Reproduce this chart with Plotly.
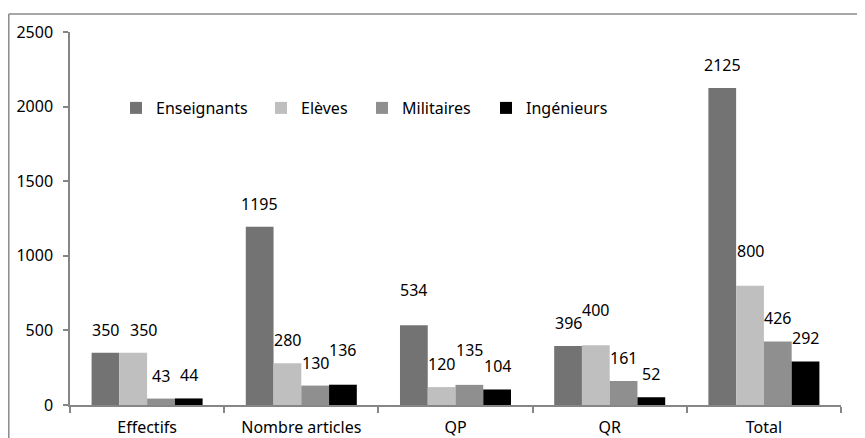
import plotly.graph_objects as go

# ---- data ----
categories = ["Effectifs", "Nombre articles", "QP", "QR", "Total"]
series_names = ["Enseignants", "Elèves", "Militaires", "Ingénieurs"]
enseignants = [350, 1195, 534, 396, 2125]
eleves = [350, 280, 120, 400, 800]
militaires = [43, 130, 135, 161, 426]
ingenieurs = [44, 136, 104, 52, 292]
y_ticks = [0, 500, 1000, 1500, 2000, 2500]

# ---- style ----
colors = ["#737373", "#bfbfbf", "#8f8f8f", "#000000"]
FONT = "Noto Sans"
OFF = 8                      # page body margin
WIN_W, WIN_H = 865, 438
W, H = WIN_W - OFF, WIN_H - OFF
PLOT_X0, PLOT_X1 = 70, 841   # window pixels
PLOT_Y0, PLOT_Y1 = 32, 405
L, R = PLOT_X0 - OFF, WIN_W - PLOT_X1
T, B = PLOT_Y0 - OFF, WIN_H - PLOT_Y1
BARGAP = 0.28
# labels that were nudged up in the original to avoid overlap: (series, category)
raised_labels = {(3, 1), (0, 2), (2, 2), (1, 3), (1, 4)}
label_dx = {(1, 0): 10}
legend_left = [116, 261, 362, 486]   # window px
LEGEND_Y = 108

values = [enseignants, eleves, militaires, ingenieurs]

plot_w = PLOT_X1 - PLOT_X0
plot_h = PLOT_Y1 - PLOT_Y0
def px(x):
    return (x - PLOT_X0) / plot_w
def py(y):
    return (PLOT_Y1 - y) / plot_h

legend_keys = ["legend", "legend2", "legend3", "legend4"]

fig = go.Figure()
for name, vals, col, lk in zip(series_names, values, colors, legend_keys):
    fig.add_trace(go.Bar(x=categories, y=vals, name=name, legend=lk,
                         marker=dict(color=col, line=dict(width=0))))

cat_w = plot_w / len(categories)
bar_w = cat_w * (1 - BARGAP) / len(series_names)
anns = []
for si, vals in enumerate(values):
    for ci, v in enumerate(vals):
        dy = 35 if (si, ci) in raised_labels else 23
        anns.append(dict(x=categories[ci], y=v, xref="x", yref="y",
                         text=str(v), showarrow=False,
                         xshift=(si - (len(series_names) - 1) / 2) * bar_w + label_dx.get((si, ci), 0),
                         yshift=dy, yanchor="middle", xanchor="center",
                         font=dict(family=FONT, size=16, color="#000")))

legend_cfg = {}
for lk, lx in zip(legend_keys, legend_left):
    legend_cfg[lk] = dict(orientation="h", x=px(lx), xanchor="left", y=py(LEGEND_Y), yanchor="middle",
                          bgcolor="rgba(0,0,0,0)", font=dict(family=FONT, size=16, color="#000"),
                          itemwidth=30)

fig.update_layout(
    width=W, height=H,
    margin=dict(l=L, r=R, t=T, b=B, autoexpand=False),
    paper_bgcolor="white", plot_bgcolor="white",
    font=dict(family=FONT, size=16, color="#000"),
    barmode="group", bargap=BARGAP, bargroupgap=0,
    showlegend=True,
    annotations=anns,
    shapes=[
        dict(type="line", xref="paper", yref="paper", x0=px(8.8), x1=px(8.8), y0=py(440), y1=py(14),
             line=dict(color="#8a8a8a", width=1.5)),
        dict(type="line", xref="paper", yref="paper", x0=px(8.8), x1=px(870), y0=py(14), y1=py(14),
             line=dict(color="#8a8a8a", width=1.5)),
    ],
    xaxis=dict(showline=True, linecolor="#868686", linewidth=1.5, ticks="outside",
               tickson="boundaries", ticklen=6, tickcolor="#868686", tickwidth=1.5,
               showgrid=False, zeroline=False, ticklabelstandoff=7),
    yaxis=dict(range=[0, 2500], tickvals=y_ticks, showline=True, linecolor="#868686", linewidth=1.5,
               ticks="outside", ticklen=5, tickcolor="#868686", tickwidth=1.5,
               showgrid=False, zeroline=False, ticklabelstandoff=7),
    **legend_cfg,
)

fig.write_html("out.html")
